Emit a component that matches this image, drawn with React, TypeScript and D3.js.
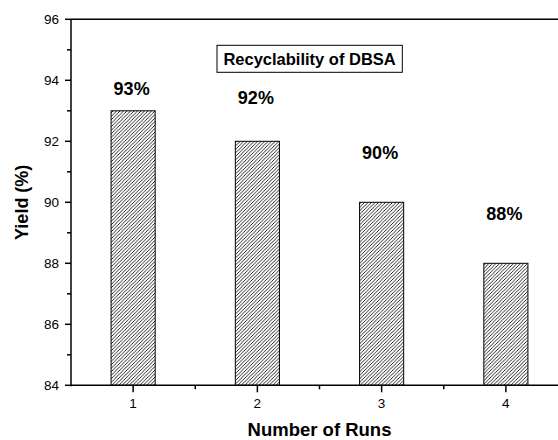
import React from "react";
import * as d3 from "d3";

const runs = [1, 2, 3, 4];
const yields = [93, 92, 90, 88];
const labels = ["93%", "92%", "90%", "88%"];
const labelAnchors = [93.52, 93.23, 91.43, 89.43];
const yTicks = [84, 86, 88, 90, 92, 94, 96];
const yMinor = [85, 87, 89, 91, 93, 95];
const xMinor = [1.5, 2.5, 3.5];
const title = "Recyclability of DBSA";

const W = 558;
const H = 440;
const m = { left: 71, top: 19.3, right: 568, bottom: 385.3 };
const font = "Arial, 'Liberation Sans', Helvetica, sans-serif";

export default function App() {
  const x = d3.scaleLinear().domain([0.5, 4.5]).range([m.left, m.right]);
  const y = d3.scaleLinear().domain([84, 96]).range([m.bottom, m.top]);
  const barW = x(0.5 + 0.355) - x(0.5);

  return (
    <svg
      width={W}
      height={H}
      style={{ position: "fixed", left: 0, top: 0, background: "#fff" }}
    >
      <defs>
        <pattern id="hatch" patternUnits="userSpaceOnUse" width={3.5} height={3.5}>
          <rect width={3.5} height={3.5} fill="#fff" />
          <path d="M-1,1 l2,-2 M0,3.5 l3.5,-3.5 M2.5,4.5 l2,-2" stroke="#000" strokeWidth={0.85} />
        </pattern>
      </defs>
      {/* bars */}
      {runs.map((r, i) => (
        <rect
          key={r}
          x={x(r) - barW / 2}
          y={y(yields[i])}
          width={barW}
          height={y(84) - y(yields[i])}
          fill="url(#hatch)"
          stroke="#000"
          strokeWidth={1}
        />
      ))}
      {/* frame */}
      <line x1={m.left} x2={m.right} y1={m.top} y2={m.top} stroke="#000" strokeWidth={1.5} />
      <line x1={m.right} x2={m.right} y1={m.top} y2={m.bottom} stroke="#000" strokeWidth={1.5} />
      <line x1={m.left} x2={m.right} y1={m.bottom} y2={m.bottom} stroke="#000" strokeWidth={1.5} />
      <line x1={m.left} x2={m.left} y1={m.top} y2={m.bottom + 1} stroke="#000" strokeWidth={1.5} />
      {/* y ticks */}
      {yTicks.map((t) => (
        <g key={t}>
          <line x1={m.left - 6} x2={m.left} y1={y(t)} y2={y(t)} stroke="#000" strokeWidth={1.5} />
          <text
            x={m.left - 12}
            y={y(t)}
            dy="0.36em"
            textAnchor="end"
            fontFamily={font}
            fontSize={13.5}
          >
            {t}
          </text>
        </g>
      ))}
      {yMinor.map((t) => (
        <line key={t} x1={m.left - 4} x2={m.left} y1={y(t)} y2={y(t)} stroke="#000" strokeWidth={1.5} />
      ))}
      {/* x ticks */}
      {runs.map((r) => (
        <g key={r}>
          <line x1={x(r)} x2={x(r)} y1={m.bottom} y2={m.bottom + 7} stroke="#000" strokeWidth={1.5} />
          <text x={x(r)} y={m.bottom + 23} textAnchor="middle" fontFamily={font} fontSize={13.5}>
            {r}
          </text>
        </g>
      ))}
      {xMinor.map((t) => (
        <line key={t} x1={x(t)} x2={x(t)} y1={m.bottom} y2={m.bottom + 4} stroke="#000" strokeWidth={1.5} />
      ))}
      {/* value labels */}
      {runs.map((r, i) => (
        <text
          key={r}
          x={x(r) - 1.5}
          y={y(labelAnchors[i])}
          textAnchor="middle"
          fontFamily={font}
          fontWeight="bold"
          fontSize={18}
        >
          {labels[i]}
        </text>
      ))}
      {/* title box */}
      <rect x={217} y={45.3} width={185.3} height={27} fill="#fff" stroke="#000" strokeWidth={1} />
      <text
        x={309.6}
        y={65}
        textAnchor="middle"
        fontFamily={font}
        fontWeight="bold"
        fontSize={16.5}
      >
        {title}
      </text>
      {/* axis titles */}
      <text
        x={(m.left + m.right) / 2}
        y={436}
        textAnchor="middle"
        fontFamily={font}
        fontWeight="bold"
        fontSize={18.5}
      >
        Number of Runs
      </text>
      <text
        transform={`translate(27.5, ${(m.top + m.bottom) / 2}) rotate(-90)`}
        textAnchor="middle"
        fontFamily={font}
        fontWeight="bold"
        fontSize={18}
      >
        Yield (%)
      </text>
    </svg>
  );
}
